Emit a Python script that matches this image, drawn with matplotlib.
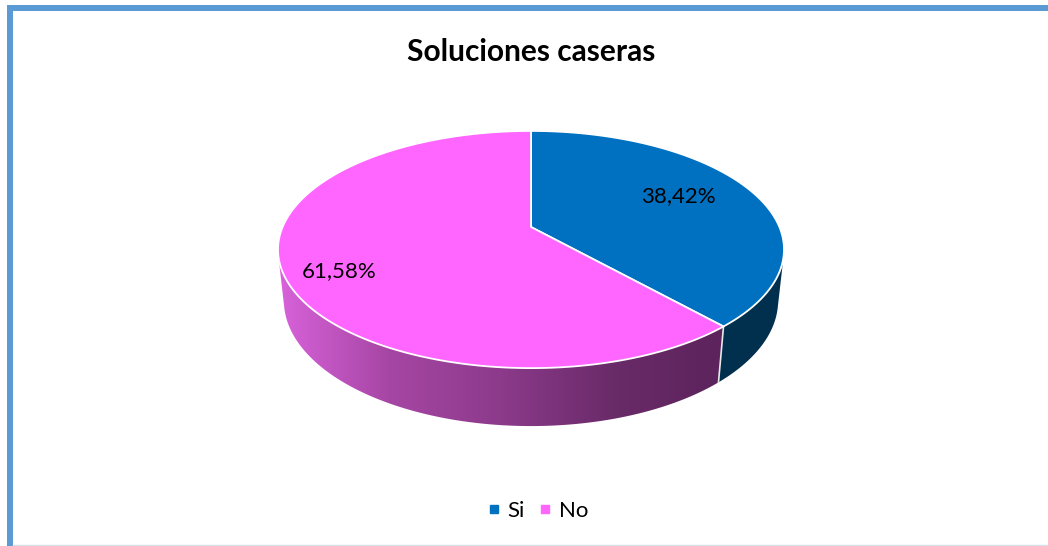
import numpy as np
import matplotlib.pyplot as plt
from matplotlib.patches import Polygon, Rectangle
from matplotlib.lines import Line2D
from matplotlib.colors import LinearSegmentedColormap

plt.rcParams['font.family'] = ['Lato', 'DejaVu Sans']

# datos
categorias = ['Si', 'No']
porcentajes = [38.42, 61.58]
etiquetas = ['38,42%', '61,58%']
colores_top = ['#0070C0', '#FF66FF']
titulo = 'Soluciones caseras'

# geometria de la torta 3D (perspectiva)
elev = np.radians(27.4)
dist = 4.674
escala = 1161
cx, cy = 531, 227
alto = 0.2336
s_el, c_el = np.sin(elev), np.cos(elev)


def proyectar(t, r=1.0, z=0.0):
    # t en grados, sentido horario desde arriba
    t = np.radians(t)
    X = r * np.sin(t)
    Y = r * np.cos(t)
    vy = Y + dist * c_el
    vz = z - dist * s_el
    d = vy * c_el - vz * s_el
    sx = X / d
    sy = (vy * s_el + vz * c_el) / d
    return cx + escala * sx, cy - escala * sy


fig = plt.figure(figsize=(10.48, 5.46), dpi=100)
ax = fig.add_axes([0, 0, 1, 1])
ax.set_xlim(0, 1048)
ax.set_ylim(546, 0)
ax.axis('off')

# angulos de cada porcion
bordes = np.concatenate([[0], np.cumsum(porcentajes) / 100 * 360])
vis_min = np.degrees(np.arccos(-1 / (dist * c_el)))
vis_max = 360 - vis_min

grad = LinearSegmentedColormap.from_list('rosa', ['#D862DA', '#A646A4', '#8C3A8B', '#6A2B69', '#5C235C'])

for i in range(len(porcentajes)):
    a0, a1 = bordes[i], bordes[i + 1]
    # pared lateral visible
    w0, w1 = max(a0, vis_min), min(a1, vis_max)
    if w1 > w0:
        tt = np.linspace(w0, w1, 200)
        xs_t, ys_t = proyectar(tt)
        xs_b, ys_b = proyectar(tt[::-1], z=-alto)
        pts = np.column_stack([np.concatenate([xs_t, xs_b]), np.concatenate([ys_t, ys_b])])
        if i == 0:
            ax.add_patch(Polygon(pts, closed=True, facecolor='#012F4E', edgecolor='none', zorder=2))
        else:
            pared = Polygon(pts, closed=True, facecolor='none', edgecolor='none', zorder=2)
            ax.add_patch(pared)
            xmin, xmax = pts[:, 0].min(), pts[:, 0].max()
            img = ax.imshow(np.linspace(0, 1, 256).reshape(1, -1), cmap=grad, aspect='auto',
                            extent=(xmin, xmax, pts[:, 1].max() + 2, pts[:, 1].min() - 2), zorder=2)
            img.set_clip_path(pared)
    # separacion lateral
    if vis_min < a1 < vis_max:
        xa, ya = proyectar(a1)
        xb, yb = proyectar(a1, z=-alto)
        ax.plot([xa, xb], [ya, yb], color='#E8E8E8', lw=1.2, zorder=3)

# caras superiores
for i in range(len(porcentajes)):
    a0, a1 = bordes[i], bordes[i + 1]
    tt = np.linspace(a0, a1, 300)
    xs, ys = proyectar(tt)
    pts = np.column_stack([np.concatenate([[cx], xs]), np.concatenate([[cy], ys])])
    ax.add_patch(Polygon(pts, closed=True, facecolor=colores_top[i], edgecolor='white',
                         lw=1.3, zorder=4, joinstyle='round'))

# etiquetas de datos
radios = [0.66, 0.8]
desplaz = [(1, -5), (4, 10)]
for i in range(len(porcentajes)):
    mid = (bordes[i] + bordes[i + 1]) / 2
    lx, ly = proyectar(mid, r=radios[i])
    ax.text(lx + desplaz[i][0], ly + desplaz[i][1], etiquetas[i], ha='center', va='center',
            fontsize=16, color='black', zorder=5)

# titulo
ax.text(531, 52, titulo, ha='center', va='center', fontsize=21.5, fontweight='bold', color='black')

# leyenda
handles = [Line2D([0], [0], marker='s', linestyle='none', markersize=6,
                  markerfacecolor=c, markeredgecolor=c) for c in colores_top]
fig.legend(handles, categorias, loc='center', bbox_to_anchor=(538 / 1048, 1 - 511 / 546), ncol=2,
           frameon=False, fontsize=16, handlelength=0.5, handletextpad=0.35, columnspacing=0.7)

# marco
ax.add_patch(Rectangle((7, 5), 6, 541, facecolor='#5B9BD5', edgecolor='none', zorder=6))
ax.add_patch(Rectangle((7, 5), 1041, 6, facecolor='#5B9BD5', edgecolor='none', zorder=6))
ax.plot([13, 1048], [545, 545], color='#D6E0EA', lw=1, zorder=6)

fig.savefig('out.png', dpi=100)
